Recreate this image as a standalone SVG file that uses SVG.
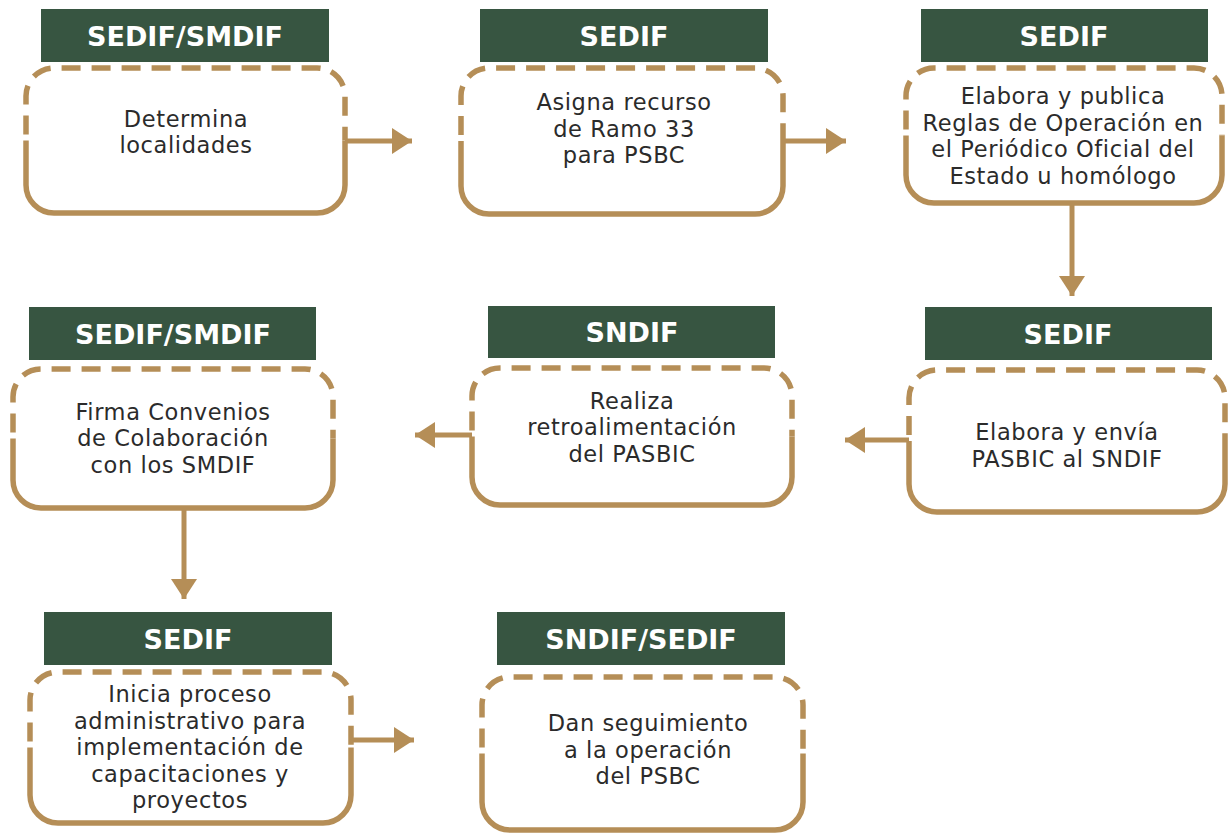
<svg xmlns="http://www.w3.org/2000/svg" width="1230" height="835" viewBox="0 0 1230 835">
<defs>
<style>
.hdr{fill:#375541}
.ht{font-family:"DejaVu Sans",sans-serif;font-weight:bold;font-size:27px;fill:#ffffff;text-anchor:middle}
.bt{font-family:"DejaVu Sans",sans-serif;font-size:22.5px;fill:#2b2b2b;text-anchor:middle;letter-spacing:0.6px}
.dash{fill:none;stroke:#b58e57;stroke-width:5.5;stroke-dasharray:19 11;stroke-dashoffset:24}
.solid{fill:none;stroke:#b58e57;stroke-width:5.5}
.conn{fill:none;stroke:#b58e57;stroke-width:5}
</style>
<marker id="ah" markerUnits="userSpaceOnUse" markerWidth="21" markerHeight="26" refX="20" refY="13" orient="auto">
<path d="M0,0 L20,13 L0,26 z" fill="#b58e57"/>
</marker>
</defs>
<rect width="1230" height="835" fill="#ffffff"/>

<g id="connectors">
<path class="conn" d="M345,141 H412" marker-end="url(#ah)"/>
<path class="conn" d="M783,141 H846" marker-end="url(#ah)"/>
<path class="conn" d="M1072,203 V296" marker-end="url(#ah)"/>
<path class="conn" d="M909,440 H845" marker-end="url(#ah)"/>
<path class="conn" d="M472,435 H415" marker-end="url(#ah)"/>
<path class="conn" d="M184,508 V599" marker-end="url(#ah)"/>
<path class="conn" d="M351,740 H414" marker-end="url(#ah)"/>
</g>

<g id="node1">
<rect class="hdr" x="41" y="9" width="288" height="53"/>
<text class="ht" x="185" y="46">SEDIF/SMDIF</text>
<path class="dash" d="M26,140.5 V96 A28 28 0 0 1 54,68 H317 A28 28 0 0 1 345,96 V140.5"/>
<path class="solid" d="M26,140.5 V185 A28 28 0 0 0 54,213 H317 A28 28 0 0 0 345,185 V140.5"/>
<text class="bt" x="186" y="126.75">Determina</text>
<text class="bt" x="186" y="153.25">localidades</text>
</g>

<g id="node2">
<rect class="hdr" x="480" y="9" width="288" height="53"/>
<text class="ht" x="624" y="46">SEDIF</text>
<path class="dash" d="M461,141 V96 A28 28 0 0 1 489,68 H755 A28 28 0 0 1 783,96 V141"/>
<path class="solid" d="M461,141 V186 A28 28 0 0 0 489,214 H755 A28 28 0 0 0 783,186 V141"/>
<text class="bt" x="624" y="110">Asigna recurso</text>
<text class="bt" x="624" y="136.5">de Ramo 33</text>
<text class="bt" x="624" y="163">para PSBC</text>
</g>

<g id="node3">
<rect class="hdr" x="921" y="9" width="287" height="53"/>
<text class="ht" x="1064" y="46">SEDIF</text>
<path class="dash" d="M906,135.5 V96 A28 28 0 0 1 934,68 H1194 A28 28 0 0 1 1222,96 V135.5"/>
<path class="solid" d="M906,135.5 V175 A28 28 0 0 0 934,203 H1194 A28 28 0 0 0 1222,175 V135.5"/>
<text class="bt" x="1063" y="104">Elabora y publica</text>
<text class="bt" x="1063" y="130.5">Reglas de Operación en</text>
<text class="bt" x="1063" y="157">el Periódico Oficial del</text>
<text class="bt" x="1063" y="183.5">Estado u homólogo</text>
</g>

<g id="node4">
<rect class="hdr" x="29" y="307" width="287" height="53"/>
<text class="ht" x="173" y="344">SEDIF/SMDIF</text>
<path class="dash" d="M13,438.5 V397 A28 28 0 0 1 41,369 H305 A28 28 0 0 1 333,397 V438.5"/>
<path class="solid" d="M13,438.5 V480 A28 28 0 0 0 41,508 H305 A28 28 0 0 0 333,480 V438.5"/>
<text class="bt" x="173" y="419.5">Firma Convenios</text>
<text class="bt" x="173" y="446">de Colaboración</text>
<text class="bt" x="173" y="472.5">con los SMDIF</text>
</g>

<g id="node5">
<rect class="hdr" x="488" y="306" width="287" height="52"/>
<text class="ht" x="632" y="342">SNDIF</text>
<path class="dash" d="M472,436.5 V396 A28 28 0 0 1 500,368 H764 A28 28 0 0 1 792,396 V436.5"/>
<path class="solid" d="M472,436.5 V477 A28 28 0 0 0 500,505 H764 A28 28 0 0 0 792,477 V436.5"/>
<text class="bt" x="632" y="408.5">Realiza</text>
<text class="bt" x="632" y="435">retroalimentación</text>
<text class="bt" x="632" y="461.5">del PASBIC</text>
</g>

<g id="node6">
<rect class="hdr" x="925" y="307" width="287" height="53"/>
<text class="ht" x="1068" y="344">SEDIF</text>
<path class="dash" d="M909,441 V398 A28 28 0 0 1 937,370 H1197 A28 28 0 0 1 1225,398 V441"/>
<path class="solid" d="M909,441 V484 A28 28 0 0 0 937,512 H1197 A28 28 0 0 0 1225,484 V441"/>
<text class="bt" x="1067" y="440.25">Elabora y envía</text>
<text class="bt" x="1067" y="466.75">PASBIC al SNDIF</text>
</g>

<g id="node7">
<rect class="hdr" x="44" y="612" width="288" height="53"/>
<text class="ht" x="188" y="649">SEDIF</text>
<path class="dash" d="M30,747.5 V700 A28 28 0 0 1 58,672 H323 A28 28 0 0 1 351,700 V747.5"/>
<path class="solid" d="M30,747.5 V795 A28 28 0 0 0 58,823 H323 A28 28 0 0 0 351,795 V747.5"/>
<text class="bt" x="190" y="702">Inicia proceso</text>
<text class="bt" x="190" y="728.5">administrativo para</text>
<text class="bt" x="190" y="755">implementación de</text>
<text class="bt" x="190" y="781.5">capacitaciones y</text>
<text class="bt" x="190" y="808">proyectos</text>
</g>

<g id="node8">
<rect class="hdr" x="497" y="612" width="288" height="53"/>
<text class="ht" x="641" y="649">SNDIF/SEDIF</text>
<path class="dash" d="M482,753.5 V705 A28 28 0 0 1 510,677 H775 A28 28 0 0 1 803,705 V753.5"/>
<path class="solid" d="M482,753.5 V802 A28 28 0 0 0 510,830 H775 A28 28 0 0 0 803,802 V753.5"/>
<text class="bt" x="648" y="731">Dan seguimiento</text>
<text class="bt" x="648" y="757.5">a la operación</text>
<text class="bt" x="648" y="784">del PSBC</text>
</g>
</svg>
